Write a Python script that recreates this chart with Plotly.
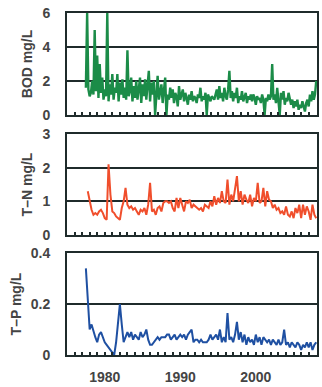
import plotly.graph_objects as go
from plotly.subplots import make_subplots

# ---- data ----
bod_start, bod_per_year = 1977.5, 6
bod = [1.6, 6.0, 1.5, 1.1, 1.3, 2.0,
       1.2, 5.0, 1.4, 3.5, 1.0, 3.0,
       1.3, 2.2, 0.9, 1.5, 1.1, 6.0,
       0.8, 1.8, 1.2, 2.4, 0.9, 1.6,
       1.3, 2.4, 0.8, 1.9, 1.2, 2.1,
       1.0, 1.6, 0.9, 3.8, 1.1, 1.4,
       2.2, 0.8, 1.7, 1.0, 2.0, 0.9,
       1.5, 2.2, 0.7, 1.8, 1.1, 2.1,
       0.9, 1.6, 2.6, 0.8, 1.9, 1.2,
       2.0, 0.0, 1.5, 2.3, 0.9, 1.4,
       1.8, 0.7, 1.3, 2.2, 0.0, 1.2,
       0.9, 1.6, 1.0, 1.5, 0.7, 1.3,
       1.1, 0.5, 1.7, 0.9, 1.2, 1.5,
       0.8, 1.3, 1.0, 0.6, 1.2, 0.9,
       1.4, 0.8, 1.1, 1.0, 0.7, 1.2,
       1.0, 1.6, 0.8, 1.1, 0.9, 1.3,
       0.0, 1.2, 1.0, 0.8, 1.1, 1.0,
       0.9, 1.2, 1.5, 0.9, 1.7, 1.0,
       1.3, 0.8, 1.6, 1.1, 0.9, 1.5,
       2.6, 1.0, 1.4, 0.8, 1.3, 1.0,
       1.6, 0.7, 1.1, 0.9, 1.4, 0.8,
       1.0, 1.3, 0.7, 1.1, 0.9, 1.2,
       0.8, 1.2, 1.0, 0.6, 1.1, 0.9,
       1.0, 0.7, 1.2, 0.9, 0.0, 1.0,
       0.8, 1.2, 0.9, 1.1, 3.0, 0.9,
       1.2, 0.7, 1.6, 0.9, 0.0, 1.3,
       0.9, 1.4, 0.6, 1.0, 0.8, 1.3,
       1.0, 0.6, 0.9, 0.4, 0.8, 0.5,
       0.9, 0.3, 0.6, 0.4, 0.8, 0.5,
       0.2, 0.7, 0.9, 0.5, 1.2, 0.8,
       1.4, 0.9, 1.2, 2.0]

tn_start, tn_per_year = 1977.75, 4
tn = [1.30,
      1.0, 0.75, 0.6, 0.65,
      0.6, 0.7, 0.75, 0.65,
      0.5, 0.45, 2.1, 1.2,
      0.7, 0.65, 0.55, 0.5,
      0.45, 0.8, 1.0, 1.4,
      0.9, 0.8, 0.85, 0.75,
      0.8, 0.7, 0.6, 0.75,
      0.7, 0.8, 0.6, 0.9,
      1.55, 0.7, 0.75, 0.6,
      0.8, 0.85, 0.7, 0.95,
      1.0, 1.0, 0.95, 1.0,
      0.8, 0.7, 1.1, 0.8,
      1.1, 0.9, 0.7, 1.0,
      0.95, 1.05, 0.8, 0.9,
      0.85, 0.8, 0.75, 0.8,
      0.7, 0.9, 0.85, 0.8,
      1.0, 0.85, 1.15, 0.9,
      1.1, 0.95, 1.3, 1.0,
      0.95, 1.65, 0.9, 1.2,
      1.0, 1.35, 1.75, 1.0,
      1.3, 0.9, 1.2, 1.05,
      0.95, 1.2, 0.85, 1.1,
      1.0, 1.55, 0.95, 1.0,
      1.4, 0.85, 1.3, 1.05,
      1.0, 0.8, 0.9, 0.75,
      0.8, 0.65, 0.7, 0.6,
      0.85, 0.6, 0.55, 0.7,
      0.5, 0.8, 0.65, 0.9,
      0.5, 0.9, 0.6, 0.85,
      0.7, 0.45, 0.9, 0.6,
      0.5]

tp_start, tp_per_year = 1977.5, 4
tp = [0.34, 0.22,
      0.10, 0.12, 0.09, 0.07,
      0.05, 0.08, 0.09, 0.07,
      0.05, 0.04, 0.03, 0.02,
      0.01, 0.0, 0.05, 0.12,
      0.20, 0.12, 0.05, 0.07,
      0.09, 0.07, 0.09, 0.06,
      0.08, 0.07, 0.06, 0.09,
      0.07, 0.08, 0.10, 0.06,
      0.04, 0.04, 0.05, 0.06,
      0.07, 0.06, 0.07, 0.07,
      0.07, 0.08, 0.08, 0.06,
      0.07, 0.08, 0.06, 0.07,
      0.08, 0.07, 0.08, 0.06,
      0.08, 0.09, 0.10, 0.05,
      0.06, 0.06, 0.05, 0.06,
      0.05, 0.05, 0.05, 0.06,
      0.08, 0.06, 0.07, 0.08,
      0.06, 0.10, 0.05, 0.07,
      0.05, 0.165, 0.06, 0.07,
      0.05, 0.08, 0.13, 0.06,
      0.09, 0.05, 0.08, 0.04,
      0.07, 0.05, 0.06, 0.04,
      0.08, 0.05, 0.07, 0.04,
      0.07, 0.06, 0.05, 0.06,
      0.04, 0.06, 0.05, 0.04,
      0.06, 0.04, 0.05, 0.10,
      0.04, 0.05, 0.03, 0.05,
      0.04, 0.03, 0.05, 0.04,
      0.02, 0.04, 0.03, 0.05,
      0.03, 0.05, 0.02, 0.04,
      0.05]

year_ticks = [1980, 1990, 2000]
year_labels = ["1980", "1990", "2000"]
titles = ["BOD mg/L", "T\u2013N mg/L", "T\u2013P mg/L"]
y_ranges = [[0, 6], [0, 3], [0, 0.4]]
y_dticks = [2, 1, 0.2]
colors = ["#1b8c48", "#f04e2c", "#1f50a2"]


def times(start, per_year, n):
    return [start + i / per_year for i in range(n)]


series = [
    (times(bod_start, bod_per_year, len(bod)), bod),
    (times(tn_start, tn_per_year, len(tn)), tn),
    (times(tp_start, tp_per_year, len(tp)), tp),
]

fig = make_subplots(rows=3, cols=1, shared_xaxes=False, vertical_spacing=0.0)

domains = [[0.702, 1.0], [0.351, 0.646], [0.0, 0.298]]
font_col = "#444444"
frame_col = "#1f2b2b"
fam = "Arial, Liberation Sans, sans-serif"
widths = [2.4, 2.0, 2.0]
for i, ((xs, ys), col) in enumerate(zip(series, colors)):
    r = i + 1
    fig.add_trace(go.Scatter(x=xs, y=ys, mode="lines",
                             line=dict(color=col, width=widths[i]),
                             showlegend=False), row=r, col=1)
    fig.update_yaxes(row=r, col=1, range=y_ranges[i], dtick=y_dticks[i],
                     domain=domains[i], showgrid=True, gridcolor=frame_col,
                     gridwidth=2, zeroline=False, showline=True,
                     linecolor=frame_col, linewidth=2, mirror=True,
                     automargin=False,
                     ticks="", ticklabelstandoff=12,
                     tickfont=dict(size=14, color=font_col, family=fam,
                                   weight="bold"),
                     title=dict(text=titles[i], standoff=6,
                                font=dict(size=14, color=font_col,
                                          family=fam, weight="bold")))
    fig.update_xaxes(row=r, col=1, range=[1975, 2008.1], showgrid=False,
                     zeroline=False, showline=True, linecolor=frame_col,
                     linewidth=2, mirror=True, automargin=False,
                     tickmode="array", tickvals=year_ticks,
                     ticktext=year_labels if r == 3 else ["", "", ""],
                     ticks="inside", ticklen=3, tickwidth=1.5,
                     tickcolor=frame_col, ticklabelstandoff=8,
                     minor=dict(dtick=1, tick0=1975, ticks="inside",
                                ticklen=3, tickwidth=1.5, tickcolor=frame_col),
                     tickfont=dict(size=14, color=font_col, family=fam,
                                   weight="bold"))

fig.update_layout(width=322, height=387,
                  margin=dict(l=67, r=5, t=13, b=32),
                  plot_bgcolor="white", paper_bgcolor="white")

# remove the default page margin so the figure fills the window exactly
fig.write_html("out.html",
               config={"displayModeBar": False},
               post_script="document.body.style.margin='0';"
                           "document.body.style.overflow='hidden';")
